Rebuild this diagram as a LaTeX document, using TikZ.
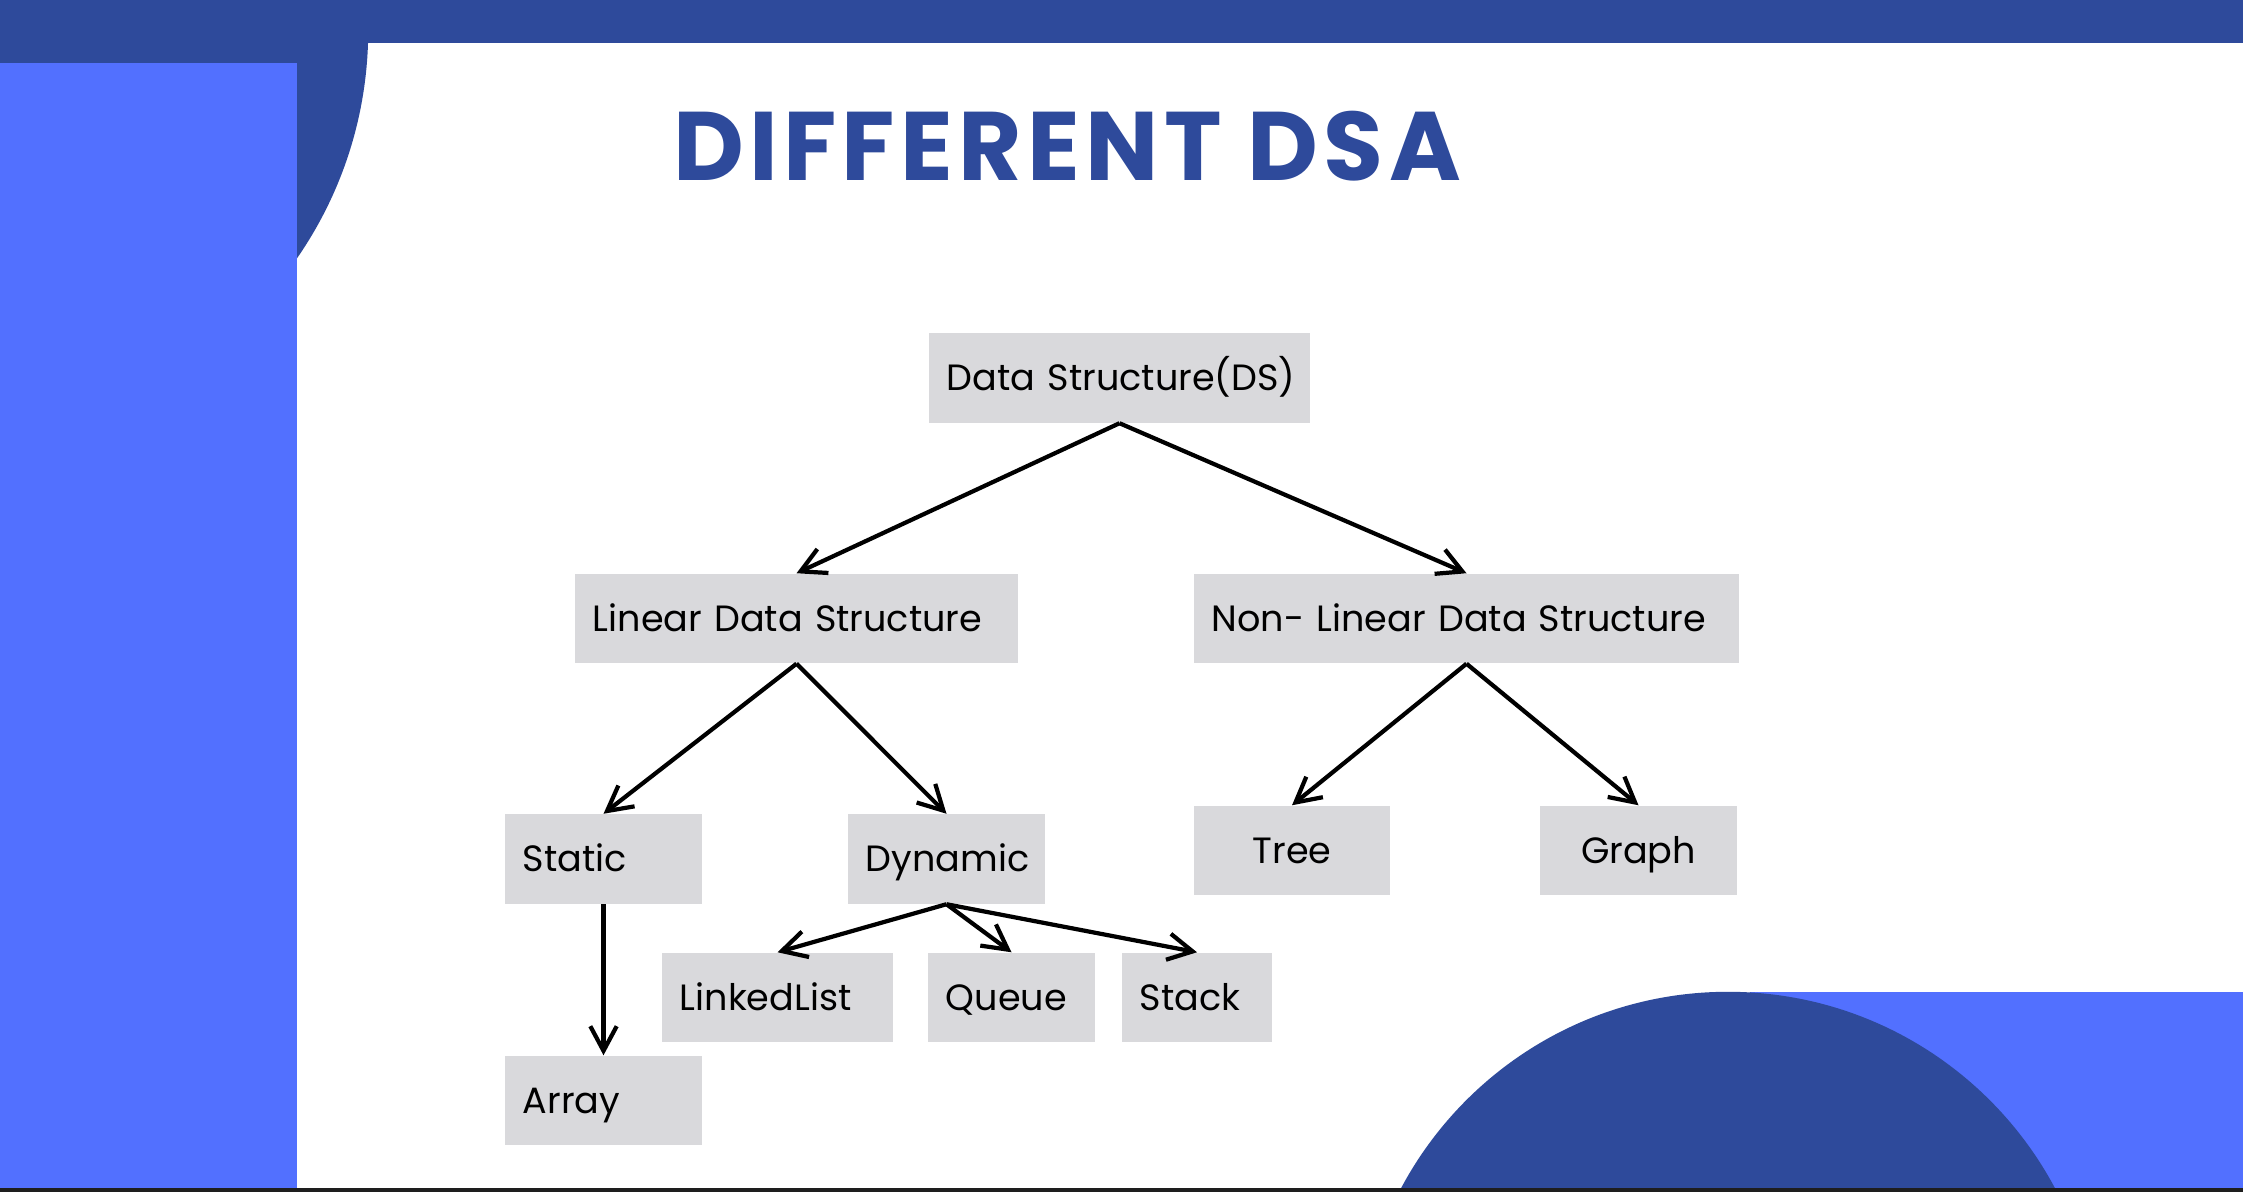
\documentclass[tikz,border=0pt]{standalone}
\usepackage{fontspec}
\setmainfont{Poppins}
\usetikzlibrary{arrows.meta}
\definecolor{darkblue}{RGB}{46,74,155}
\definecolor{lightblue}{RGB}{82,112,255}
\definecolor{boxgray}{RGB}{217,217,220}
\definecolor{stripgray}{RGB}{30,30,30}
\tikzset{
    box/.style={fill=boxgray, inner xsep=0.18cm, inner ysep=0pt, minimum height=0.89cm, text height=7.3pt, text depth=0pt, font=\fontsize{10.4}{12}\selectfont},
    lbox/.style={align=left},
    cbox/.style={align=center},
    arr/.style={-{Straight Barb[length=7pt,width=7.5pt]}, line width=1.2pt, black}
}
\begin{document}
\begin{tikzpicture}[x=0.01cm,y=-0.01cm]
\useasboundingbox (0,0) rectangle (2243,1192);
\clip (0,0) rectangle (2243,1192);
\fill[white] (0,0) rectangle (2243,1192);
\fill[darkblue] (0,0) rectangle (2243,43);
\fill[darkblue] (-33,30) circle (4.01cm);
\fill[lightblue] (0,63) rectangle (297,1188);
\fill[lightblue] (1750,992) rectangle (2243,1188);
\fill[darkblue] (1728,1362) circle (3.7cm);
\fill[stripgray] (0,1188) rectangle (2243,1192);
\node[font=\fontsize{27.7}{30}\selectfont\bfseries\addfontfeature{LetterSpace=5.5}, text=darkblue] (title) at (1067,146) {DIFFERENT DSA};
\foreach \x/\y/\w/\n/\a/\t in {1119.5/378/3.45/ds/lbox/{Data Structure(DS)}, 796.5/618.5/4.07/lin/lbox/{Linear Data Structure}, 1466.5/618.5/5.09/nonlin/lbox/{Non- Linear Data Structure}, 603.5/859/1.61/static/lbox/{Static}, 946.5/859/1.61/dyn/lbox/{Dynamic}, 1292/850.5/1.60/tree/cbox/{Tree}, 1638.5/850.5/1.61/graph/cbox/{Graph}, 777.5/997.5/1.95/ll/lbox/{LinkedList}, 1011.5/997.5/1.31/queue/lbox/{Queue}, 1197/997.5/1.14/stack/lbox/{Stack}, 603.5/1100.5/1.61/array/lbox/{Array}}{
    \node[box, \a, text width=\w cm] (\n) at (\x,\y) {\mbox{\t}};
}
\foreach \a/\b in {ds/lin, ds/nonlin, lin/static, lin/dyn, nonlin/tree, nonlin/graph, dyn/ll, dyn/queue, dyn/stack, static/array}
    \draw[arr] (\a.south) -- (\b.north);
\end{tikzpicture}
\end{document}
